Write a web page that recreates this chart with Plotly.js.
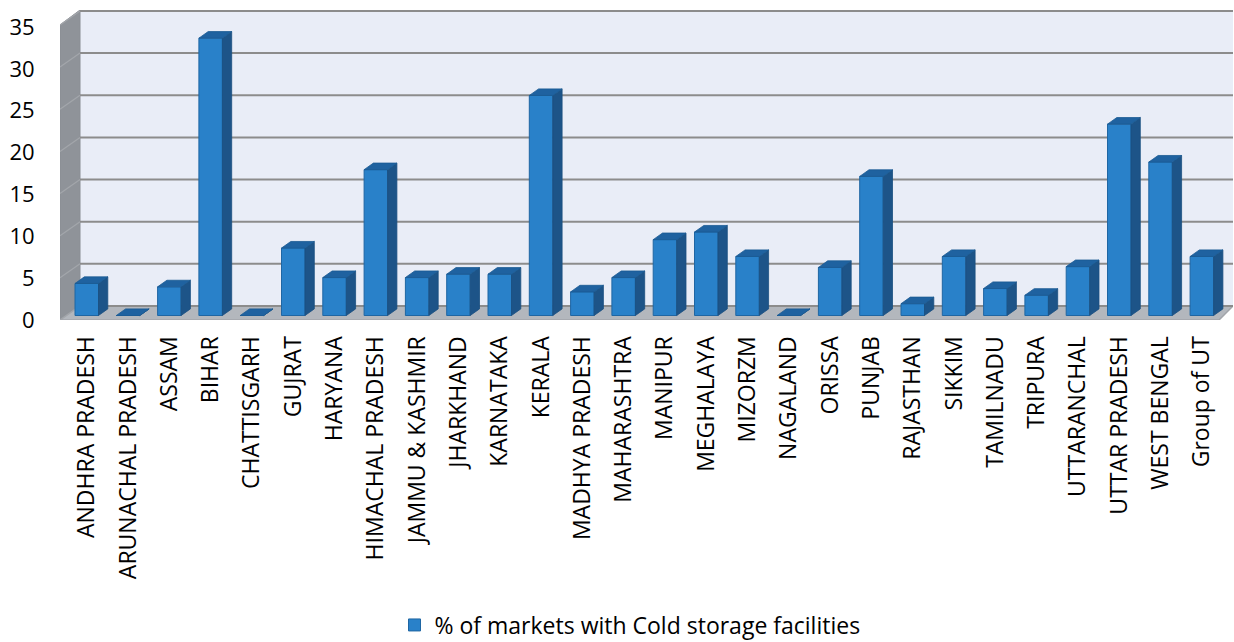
<!DOCTYPE html>
<html>
<head>
<meta charset="utf-8">
<script src="https://cdn.plot.ly/plotly-3.0.1.min.js"></script>
<style>html,body{margin:0;padding:0;background:#fff;}#chart{width:1234px;height:642px;}</style>
</head>
<body>
<div id="chart"></div>
<script>
// ---- data ----
const categories = ["ANDHRA PRADESH","ARUNACHAL PRADESH","ASSAM","BIHAR","CHATTISGARH","GUJRAT","HARYANA","HIMACHAL PRADESH","JAMMU & KASHMIR","JHARKHAND","KARNATAKA","KERALA","MADHYA PRADESH","MAHARASHTRA","MANIPUR","MEGHALAYA","MIZORZM","NAGALAND","ORISSA","PUNJAB","RAJASTHAN","SIKKIM","TAMILNADU","TRIPURA","UTTARANCHAL","UTTAR PRADESH","WEST BENGAL","Group of UT"];
const values = [3.8, 0, 3.4, 32.9, 0, 8.0, 4.5, 17.3, 4.5, 4.9, 4.9, 26.1, 2.8, 4.5, 9.0, 9.9, 7.0, 0, 5.7, 16.5, 1.4, 7.0, 3.2, 2.4, 5.8, 22.7, 18.2, 7.0];
const yTicks = [0, 5, 10, 15, 20, 25, 30, 35];
const seriesName = "% of markets with Cold storage facilities";

// ---- geometry (pixels) ----
const W = 1234, H = 642;
const plotL = 60, plotR = 1233, plotT = 10, plotB = 320;
const catStep = 41.3, firstCenter = 86.75;
const ppu = 8.43, zeroPx = 315.5;          // front (bars)
const backZeroPx = 306, backLeft = 80;     // back wall
const labelZeroPx = 320, labelPpu = 293 / 35;
const barW = 23.5 / catStep;
const depthX = 9.3 / catStep, depthY = 6.6 / ppu;

const xRange = [-(firstCenter - plotL) / catStep, (plotR - firstCenter) / catStep];
const yRange = [-(plotB - zeroPx) / ppu, (zeroPx - plotT) / ppu];
const y2Range = [-(plotB - labelZeroPx) / labelPpu, (labelZeroPx - plotT) / labelPpu];
const X = px => xRange[0] + (px - plotL) / catStep;
const Y = py => (zeroPx - py) / ppu;

const idx = categories.map((_, i) => i);

// 3D faces derived from the values
const sideX = [], sideY = [], topX = [], topY = [];
values.forEach((v, i) => {
  const xl = i - barW / 2, xr = i + barW / 2;
  sideX.push(xr, xr + depthX, xr + depthX, xr, xr, null);
  sideY.push(0, depthY, v + depthY, v, 0, null);
  topX.push(xl, xl + depthX, xr + depthX, xr, xl, null);
  topY.push(v, v + depthY, v + depthY, v, v, null);
});

const traces = [
  {type: 'bar', x: idx, y: values, width: barW, name: seriesName,
   marker: {color: '#2981C9', line: {color: '#1F66A3', width: 1}}, hoverinfo: 'x+y'},
  {type: 'scatter', x: sideX, y: sideY, mode: 'lines', fill: 'toself', fillcolor: '#1D5488',
   line: {color: '#1A4F80', width: 0.8}, showlegend: false, hoverinfo: 'skip'},
  {type: 'scatter', x: topX, y: topY, mode: 'lines', fill: 'toself', fillcolor: '#1F62A0',
   line: {color: '#1B5A93', width: 0.8}, showlegend: false, hoverinfo: 'skip'},
  {type: 'scatter', x: [xRange[0]], y: [0], yaxis: 'y2', mode: 'markers', marker: {opacity: 0},
   showlegend: false, hoverinfo: 'skip'}
];

// ---- decoration shapes (walls, floor, gridlines) ----
const shapes = [];
shapes.push({type: 'rect', xref: 'x', yref: 'y', layer: 'below',
  x0: X(backLeft), x1: X(plotR), y0: Y(backZeroPx), y1: Y(plotT),
  fillcolor: '#E9EDF7', line: {width: 0}});
shapes.push({type: 'path', xref: 'x', yref: 'y', layer: 'below',
  path: `M ${X(plotL)},${Y(plotB)} L ${X(plotL)},${Y(plotB - 35 * ppu)} L ${X(backLeft)},${Y(plotT)} L ${X(backLeft)},${Y(backZeroPx)} Z`,
  fillcolor: '#8F9399', line: {color: '#8A8E94', width: 1}});
shapes.push({type: 'path', xref: 'x', yref: 'y', layer: 'below',
  path: `M ${X(plotL)},${Y(plotB)} L ${X(backLeft)},${Y(backZeroPx)} L ${X(plotR)},${Y(backZeroPx)} L ${X(plotR - 14)},${Y(plotB)} Z`,
  fillcolor: '#B3B7BD', line: {color: '#A2A5AA', width: 1.5}});
yTicks.forEach(v => {
  const gy = backZeroPx - v * ppu;
  shapes.push({type: 'line', xref: 'x', yref: 'y', layer: 'below',
    x0: X(backLeft), x1: X(plotR), y0: Y(gy), y1: Y(gy),
    line: {color: '#8C8C8C', width: 2}});
  if (v > 0) {
    shapes.push({type: 'line', xref: 'x', yref: 'y', layer: 'below',
      x0: X(plotL), x1: X(backLeft), y0: Y(plotB - v * ppu), y1: Y(gy),
      line: {color: '#A3A6AB', width: 1.2}});
  }
});

const font = {family: '"Open Sans", "Liberation Sans", sans-serif', size: 22, color: '#000000'};
const xFont = Object.assign({}, font, {size: 23});
const legendFont = Object.assign({}, font, {size: 23});

const layout = {
  width: W, height: H,
  margin: {l: plotL, r: W - plotR, t: plotT, b: H - plotB, autoexpand: false},
  paper_bgcolor: '#FFFFFF', plot_bgcolor: '#FFFFFF',
  font: font,
  showlegend: true,
  xaxis: {range: xRange, tickmode: 'array', tickvals: idx, ticktext: categories,
    tickangle: -90, ticks: 'outside', ticklen: 6, tickcolor: 'rgba(0,0,0,0)',
    showgrid: false, zeroline: false, showline: false, fixedrange: true, tickfont: xFont, automargin: false},
  yaxis: {range: yRange, showticklabels: false, ticks: '', showgrid: false, zeroline: false,
    showline: false, fixedrange: true, automargin: false},
  yaxis2: {overlaying: 'y', side: 'left', range: y2Range, tickmode: 'array', tickvals: yTicks,
    ticks: 'outside', ticklen: 20, tickcolor: 'rgba(0,0,0,0)', showgrid: false, zeroline: false,
    showline: false, fixedrange: true, tickfont: font, automargin: false},
  legend: {orientation: 'h', x: 630 / W, xanchor: 'center', xref: 'container',
    y: 1 - 625 / H, yanchor: 'middle', yref: 'container', font: legendFont, bgcolor: 'rgba(0,0,0,0)'},
  shapes: shapes,
  bargap: 0
};

Plotly.newPlot('chart', traces, layout, {displayModeBar: false, staticPlot: true});
</script>
</body>
</html>
